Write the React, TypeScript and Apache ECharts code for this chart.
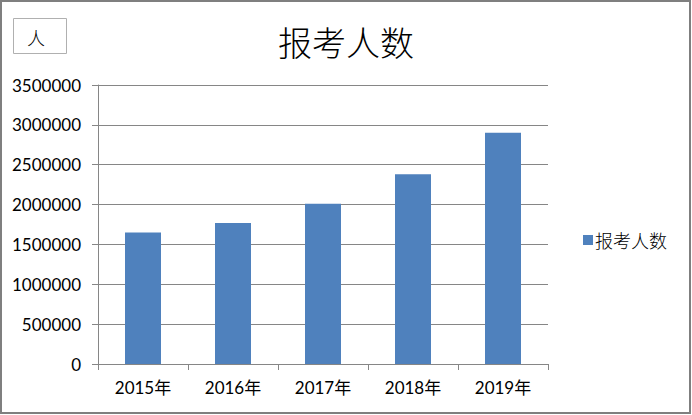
import React, { useEffect, useRef } from "react";
import * as echarts from "echarts";

const categories = ["2015年", "2016年", "2017年", "2018年", "2019年"];
const seriesName = "报考人数";
const values = [1649000, 1770000, 2010000, 2380000, 2900000];
const titleText = "报考人数";
const unitText = "人";

export default function App() {
  const ref = useRef<HTMLDivElement>(null);
  useEffect(() => {
    if (!ref.current) return;
    const chart = echarts.init(ref.current, undefined, { renderer: "svg" });
    chart.setOption({
      animation: false,
      backgroundColor: "#ffffff",
      title: {
        text: titleText,
        left: "center",
        top: 19,
        textStyle: {
          fontFamily: "Noto Sans CJK SC",
          fontSize: 34,
          fontWeight: 300,
          color: "#000",
        },
      },
      graphic: [
        {
          type: "rect",
          shape: { x: 1, y: 1, width: 689, height: 412 },
          style: { fill: "none", stroke: "#7f7f7f", lineWidth: 2 },
          silent: true,
        },
        {
          type: "rect",
          shape: { x: 13.5, y: 18.5, width: 53, height: 35 },
          style: { fill: "#fff", stroke: "#b0b0b0", lineWidth: 1 },
          silent: true,
        },
        {
          type: "text",
          x: 36,
          y: 37,
          style: {
            text: unitText,
            fontFamily: "Noto Sans CJK SC",
            fontSize: 18,
            fontWeight: 300,
            fill: "#000",
            align: "center",
            verticalAlign: "middle",
          },
          silent: true,
        },
      ],
      legend: {
        data: [seriesName],
        orient: "vertical",
        left: 578,
        top: 226,
        icon: "rect",
        itemWidth: 10,
        itemHeight: 10,
        itemGap: 6,
        textStyle: {
          fontFamily: "Noto Sans CJK SC",
          fontSize: 18,
          fontWeight: 300,
          color: "#000",
          padding: [0, 0, 0, -3],
        },
      },
      grid: { left: 98, right: 144, top: 85, bottom: 51, containLabel: false },
      xAxis: {
        type: "category",
        data: categories,
        axisLine: { lineStyle: { color: "#868686", width: 1 } },
        axisTick: { show: true, length: 6, alignWithLabel: false, lineStyle: { color: "#868686" } },
        axisLabel: {
          fontFamily: "Lato, Noto Sans CJK SC",
          fontSize: 17,
          color: "#000",
          margin: 15,
        },
      },
      yAxis: {
        type: "value",
        min: 0,
        max: 3500000,
        interval: 500000,
        axisLine: { show: true, lineStyle: { color: "#868686", width: 1 } },
        axisTick: { show: true, length: 6, lineStyle: { color: "#868686" } },
        splitLine: { lineStyle: { color: "#868686", width: 1 } },
        axisLabel: {
          fontFamily: "Lato",
          fontSize: 17,
          color: "#000",
          margin: 17,
          formatter: (v: number) => String(v),
        },
      },
      series: [
        {
          name: seriesName,
          type: "bar",
          data: values,
          barWidth: "40%",
          itemStyle: { color: "#4f81bd" },
        },
      ],
    });
    return () => chart.dispose();
  }, []);
  return (
    <div
      ref={ref}
      style={{ position: "fixed", left: 0, top: 0, width: 692, height: 415 }}
    />
  );
}
